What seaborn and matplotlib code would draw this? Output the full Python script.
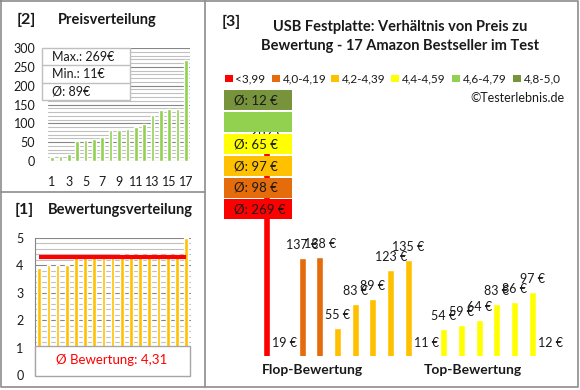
import matplotlib
matplotlib.use('Agg')
import matplotlib.pyplot as plt
import seaborn as sns
import pandas as pd
from matplotlib.patches import Rectangle

sns.set_style('white')
plt.rcParams['font.family'] = ['Lato', 'DejaVu Sans']

# ---------------- data ----------------
price_positions = [str(i) for i in range(1, 18)]
prices_sorted = [11, 12, 19, 54, 55, 59, 64, 83, 83, 86, 89, 97, 123, 135, 137, 138, 269]
stats_lines = ['Max.: 269€', 'Min.: 11€', 'Ø: 89€']

ratings_sorted = [3.9, 4.0, 4.0, 4.0, 4.3, 4.3, 4.3, 4.3, 4.3,
                  4.4, 4.4, 4.4, 4.4, 4.4, 4.4, 4.4, 5.0]
rating_avg = 4.31
rating_avg_text = 'Ø Bewertung: 4,31'

class_names = ['<3,99', '4,0-4,19', '4,2-4,39', '4,4-4,59', '4,6-4,79', '4,8-5,0']
class_colors = ['#FF0000', '#E46C0A', '#FFC000', '#FFFF00', '#92D050', '#77933C']
class_avg_labels = ['Ø: 269 €', 'Ø: 98 €', 'Ø: 97 €', 'Ø: 65 €', '', 'Ø: 12 €']

flop_top_prices = [269, 19, 137, 138, 55, 83, 89, 123, 135, 11, 54, 59, 64, 83, 86, 97, 12]
flop_top_classes = ['<3,99', '4,0-4,19', '4,0-4,19', '4,0-4,19',
                    '4,2-4,39', '4,2-4,39', '4,2-4,39', '4,2-4,39', '4,2-4,39',
                    '4,4-4,59', '4,4-4,59', '4,4-4,59', '4,4-4,59', '4,4-4,59', '4,4-4,59', '4,4-4,59',
                    '4,8-5,0']

title_lines = ['USB Festplatte: Verhältnis von Preis zu',
               'Bewertung - 17 Amazon Bestseller im Test']

# ---------------- figure ----------------
W, H = 580, 390
fig = plt.figure(figsize=(5.8, 3.9), dpi=100)
fig.patch.set_facecolor('white')


def add_ax(x0, y0, x1, y1):
    return fig.add_axes([x0 / W, 1 - y1 / H, (x1 - x0) / W, (y1 - y0) / H])


TXT = '#1a1a1a'
GRID_MAJ = '#868686'
GRID_MIN = '#c0c0c0'

# ---- [2] Preisverteilung ----
ax1 = add_ax(47.8, 48, 190.2, 161)
df1 = pd.DataFrame({'pos': price_positions, 'price': prices_sorted})
sns.barplot(data=df1, x='pos', y='price', color='#92D050', width=0.42,
            saturation=1, ax=ax1, zorder=3)
ax1.set_xlim(-0.5, 16.5)
ax1.set_ylim(0, 300)
for v in range(0, 301, 10):
    ax1.axhline(v, color=GRID_MAJ if v % 50 == 0 else GRID_MIN, lw=0.8, zorder=1)
ax1.set_yticks(range(0, 301, 50))
ax1.set_xticks(range(0, 17, 2))
ax1.set_xticklabels(price_positions[::2])
ax1.tick_params(axis='y', length=0, labelsize=9, labelcolor=TXT, pad=9)
ax1.tick_params(axis='x', length=0, labelsize=9, labelcolor=TXT, pad=11)
ax1.set_xlabel('')
ax1.set_ylabel('')
for s in ax1.spines.values():
    s.set_visible(False)

# ---- [1] Bewertungsverteilung ----
ax2 = add_ax(34.7, 238, 190.6, 375)
df2 = pd.DataFrame({'pos': price_positions, 'rating': ratings_sorted})
sns.barplot(data=df2, x='pos', y='rating', color='#FFC000', width=0.4,
            saturation=1, ax=ax2, zorder=3)
ax2.set_xlim(-0.5, 16.5)
ax2.set_ylim(0, 5)
for i in range(21):
    v = round(1 + 0.2 * i, 1)
    ax2.axhline(v, color=GRID_MAJ if abs(v - round(v)) < 1e-6 else GRID_MIN, lw=0.8, zorder=1)
ax2.plot([0, 16], [rating_avg, rating_avg], color='#FF0000', lw=3.0,
         solid_capstyle='butt', zorder=4)
ax2.set_yticks(range(0, 6))
ax2.set_xticks([])
ax2.tick_params(axis='y', length=4, direction='out', color=GRID_MAJ,
                labelsize=9, labelcolor=TXT, pad=4)
ax2.set_xlabel('')
ax2.set_ylabel('')
for k, s in ax2.spines.items():
    s.set_visible(k == 'left')
ax2.spines['left'].set_color(GRID_MAJ)

# ---- [3] Flop / Top ----
ax3 = add_ax(257.8, 100, 558.9, 356)
YMIN = 22.2
df3 = pd.DataFrame({'pos': [str(i) for i in range(len(flop_top_prices))],
                    'price': flop_top_prices, 'cls': flop_top_classes})
sns.barplot(data=df3, x='pos', y='price', hue='cls', hue_order=class_names,
            palette=dict(zip(class_names, class_colors)), dodge=False,
            width=0.4, saturation=1, legend=False, ax=ax3)
ax3.set_xlim(-0.5, 16.5)
ax3.set_ylim(YMIN, 322)
ax3.axis('off')
for i, v in enumerate(flop_top_prices):
    ax3.text(i, max(v, YMIN) + 15.2, f'{v} €', ha='center', va='center',
             fontsize=9, color=TXT, clip_on=False)

# ---------------- overlay ----------------
ov = fig.add_axes([0, 0, 1, 1])
ov.set_xlim(0, W)
ov.set_ylim(H, 0)
ov.axis('off')
ov.patch.set_alpha(0)

BORDER = '#8c8c8c'
ov.plot([1, 578, 578, 1, 1], [1, 1, 387, 387, 1], color=BORDER, lw=1.2)
ov.plot([205, 205], [1, 387], color=BORDER, lw=1.2)
ov.plot([1, 205], [192, 192], color=BORDER, lw=1.2)

# panel titles
ov.text(17, 20, '[2]', fontsize=11.5, fontweight='bold', color=TXT, va='center')
ov.text(58, 20, 'Preisverteilung', fontsize=10.5, fontweight='bold', color=TXT, va='center')
ov.text(15, 210, '[1]', fontsize=11.5, fontweight='bold', color=TXT, va='center')
ov.text(48, 210, 'Bewertungsverteilung', fontsize=10.5, fontweight='bold', color=TXT, va='center')

# stats box
ov.add_patch(Rectangle((42, 48), 88, 52, fc='white', ec='#bfbfbf', lw=1))
ov.plot([42, 130], [65.3, 65.3], color='#bfbfbf', lw=1)
ov.plot([42, 130], [82.6, 82.6], color='#bfbfbf', lw=1)
for k, t in enumerate(stats_lines):
    ov.text(52, 57 + 17.4 * k, t, fontsize=9, color=TXT, va='center')

# rating average box
ov.add_patch(Rectangle((35, 346), 155, 30, fc='white', ec='#a6a6a6', lw=1))
ov.text(112, 360, rating_avg_text, fontsize=9.5, color='#FF0000', ha='center', va='center')

# right panel title
ov.text(222, 22, '[3]', fontsize=11.5, fontweight='bold', color=TXT, va='center')
ov.text(400, 27, title_lines[0], fontsize=10.5, fontweight='bold', color=TXT, ha='center', va='center')
ov.text(400, 46, title_lines[1], fontsize=10.5, fontweight='bold', color=TXT, ha='center', va='center')

# legend row
sq_x = [225, 272, 331, 391, 452, 513]
for x, name, col in zip(sq_x, class_names, class_colors):
    ov.add_patch(Rectangle((x, 74.5), 7.5, 7.5, fc=col, ec='none'))
    ov.text(x + 10.5, 78.5, name, fontsize=8.5, color=TXT, va='center')

# class average boxes (bottom = worst class)
box_tops = [199, 177.5, 156, 134, 112, 90]
for top, col, lab in zip(box_tops, class_colors, class_avg_labels):
    ov.add_patch(Rectangle((224, top), 68, 20, fc=col, ec='none'))
    if lab:
        ov.text(234, top + 10.5, lab, fontsize=9.5, color=TXT, va='center')

ov.text(470, 98, '©Testerlebnis.de', fontsize=9, color=TXT, va='center')

ov.text(312, 370, 'Flop-Bewertung', fontsize=10, fontweight='bold', color=TXT, ha='center', va='center')
ov.text(473, 370, 'Top-Bewertung', fontsize=10, fontweight='bold', color=TXT, ha='center', va='center')

fig.savefig('out.png', dpi=100, facecolor='white')
